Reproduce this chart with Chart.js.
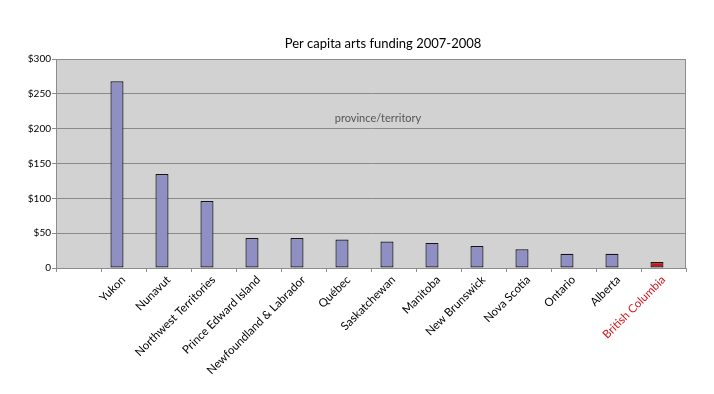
<!DOCTYPE html>
<html>
<head>
<meta charset="utf-8">
<script src="https://cdn.jsdelivr.net/npm/chart.js@4"></script>
<style>
  html, body { margin: 0; padding: 0; background: #fff; }
  #wrap { width: 714px; height: 394px; }
</style>
</head>
<body>
<div id="wrap"><canvas id="artsChart" width="714" height="394"></canvas></div>
<script>
const provinces = ['Yukon', 'Nunavut', 'Northwest Territories', 'Prince Edward Island',
  'Newfoundland & Labrador', 'Québec', 'Saskatchewan', 'Manitoba', 'New Brunswick',
  'Nova Scotia', 'Ontario', 'Alberta', 'British Columbia'];
const funding = [268, 135, 96, 43, 43, 41, 38, 36, 31.5, 27, 20.5, 20.5, 8.6];
const yTicks = [0, 50, 100, 150, 200, 250, 300];
const highlight = 'British Columbia';

const chartTitle = 'Per capita arts funding 2007-2008';
const xTitle = 'province/territory';
const fontFamily = 'Lato, "Open Sans", sans-serif';

// the original has an empty first slot on the category axis
const labels = [''].concat(provinces);
const values = [null].concat(funding);

const plotBackground = {
  id: 'plotBackground',
  beforeDraw(chart) {
    const { ctx, chartArea: a } = chart;
    ctx.save();
    ctx.fillStyle = '#d1d2d1';
    ctx.fillRect(a.left, a.top, a.right - a.left, a.bottom - a.top);
    ctx.restore();
  },
  afterDraw(chart) {
    const { ctx, chartArea: a } = chart;
    ctx.save();
    ctx.strokeStyle = '#8c8c8c';
    ctx.lineWidth = 1;
    ctx.strokeRect(a.left + 0.5, a.top + 0.5, a.right - a.left - 1, a.bottom - a.top);
    ctx.fillStyle = '#000';
    ctx.font = '13px ' + fontFamily;
    ctx.textAlign = 'center';
    ctx.textBaseline = 'middle';
    ctx.fillText(chartTitle, 383, 44);
    ctx.fillStyle = '#555';
    ctx.font = '11px ' + fontFamily;
    ctx.fillText(xTitle, (a.left + a.right) / 2 + 7, a.top + 59);
    ctx.restore();
  }
};

const ctx = document.getElementById('artsChart').getContext('2d');
new Chart(ctx, {
  type: 'bar',
  data: {
    labels: labels,
    datasets: [{
      data: values,
      backgroundColor: labels.map(l => l === highlight ? '#c8171c' : '#8f8fc3'),
      borderColor: '#151515',
      borderWidth: 1.2,
      borderSkipped: false,
      categoryPercentage: 0.58,
      barPercentage: 1
    }, {
      // empty second series, like the source spreadsheet
      data: labels.map(() => null),
      categoryPercentage: 0.58,
      barPercentage: 1
    }]
  },
  options: {
    responsive: false,
    animation: false,
    layout: { padding: { top: 59, right: 28, left: 0, bottom: 0 } },
    plugins: {
      legend: { display: false },
      tooltip: { enabled: false }
    },
    scales: {
      x: {
        afterFit: s => { s.height = 126; },
        grid: {
          drawOnChartArea: false,
          drawTicks: true,
          tickLength: 4,
          color: '#8c8c8c'
        },
        border: { color: '#8c8c8c' },
        ticks: {
          autoSkip: false,
          minRotation: 45,
          maxRotation: 45,
          padding: 1,
          color: c => labels[c.index] === highlight ? '#d0161c' : '#000',
          font: { family: fontFamily, size: 11.5 }
        }
      },
      y: {
        min: 0,
        max: 300,
        afterFit: s => { s.width = 56; },
        afterBuildTicks: s => { s.ticks = yTicks.map(v => ({ value: v })); },
        grid: {
          color: '#8a8a8a',
          tickLength: 4,
          drawTicks: true
        },
        border: { color: '#8c8c8c' },
        ticks: {
          padding: 1,
          color: '#000',
          font: { family: fontFamily, size: 10 },
          callback: v => v === 0 ? '0' : '$' + v
        }
      }
    }
  },
  plugins: [plotBackground]
});
</script>
</body>
</html>
